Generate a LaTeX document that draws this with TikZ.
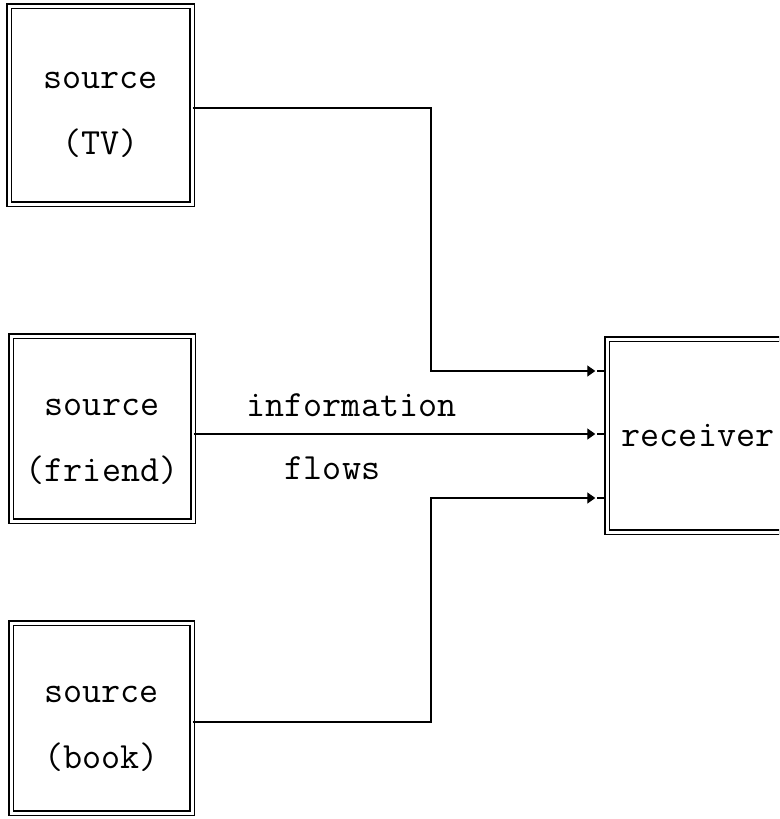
\documentclass[tikz,border=0pt]{standalone}
\usetikzlibrary{arrows.meta,calc}
\begin{document}
\begin{tikzpicture}[x=1pt,y=-1pt,
  dbox/.style={draw, double, double distance=3pt, line width=1.4pt, inner sep=0pt},
  lbl/.style={font=\ttfamily\fontsize{37}{66}\selectfont, align=center},
  flow/.style={line width=1.3pt},
  tip/.style={-{Triangle[length=8pt,width=11pt]}}
]
\useasboundingbox (0,0) rectangle (779,819);
\clip (0,0) rectangle (779,819);
\fill[white] (0,0) rectangle (779,819);
% boxes
\node[dbox, minimum width=183pt, minimum height=198pt,
  label={[lbl, yshift=-10pt]center:source\\(TV)}] (tv) at (100.5,105) {};
\node[dbox, minimum width=182pt, minimum height=185pt,
  label={[lbl, yshift=-13pt]center:source\\(friend)}] (friend) at (102,428.5) {};
\node[dbox, minimum width=181pt, minimum height=190pt,
  label={[lbl, yshift=-11pt]center:source\\(book)}] (book) at (101.5,718) {};
\node[dbox, minimum width=182pt, minimum height=193pt,
  label={[lbl]center:receiver}] (recv) at (698,435.5) {};
% junctions and inputs
\coordinate (j1) at (431,108);
\coordinate (j3) at (431,722);
\coordinate (in1) at (recv.west |- 0,371);
\coordinate (in2) at (recv.west |- 0,434);
\coordinate (in3) at (recv.west |- 0,498);
% connectors
\draw[flow, tip] (tv.east |- j1) -- (j1) |- ([xshift=-11pt]in1);
\draw[flow, tip] (friend.east |- in2) -- ([xshift=-11pt]in2);
\draw[flow, tip] (book.east |- j3) -- (j3) |- ([xshift=-11pt]in3);
\draw[flow] ([xshift=-9pt]in1) -- (in1);
\draw[flow] ([xshift=-9pt]in2) -- (in2);
\draw[flow] ([xshift=-9pt]in3) -- (in3);
% labels
\node[lbl] (info) at (351.5,405) {information};
\node[lbl] (flows) at (332.5,468) {flows};
\end{tikzpicture}
\end{document}
